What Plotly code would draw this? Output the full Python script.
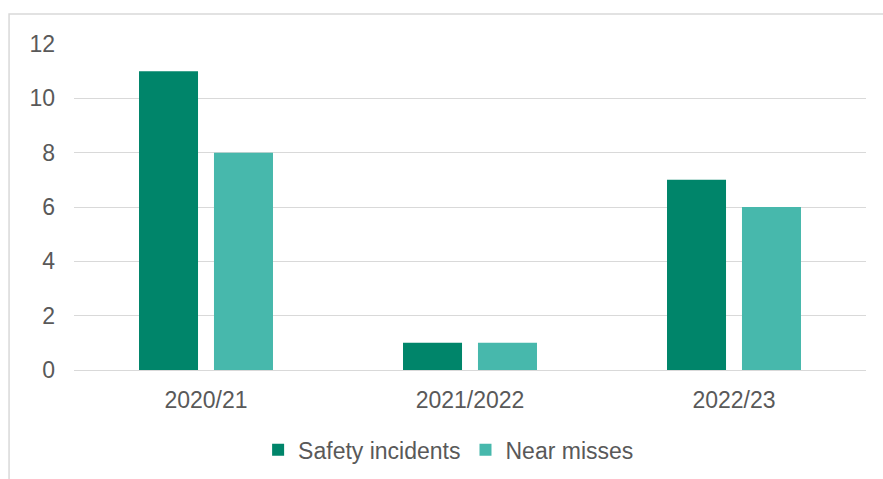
import plotly.graph_objects as go

years = ["2020/21", "2021/2022", "2022/23"]
safety_incidents = [11, 1, 7]
near_misses = [8, 1, 6]
y_ticks = [0, 2, 4, 6, 8, 10, 12]

font = dict(family="Liberation Sans, Arial, sans-serif", size=23, color="#595959")

fig = go.Figure()
fig.add_trace(go.Bar(name="Safety incidents", x=years, y=safety_incidents,
                     marker=dict(color="#00856A", line=dict(width=0))))
fig.add_trace(go.Bar(name="Near misses", x=years, y=near_misses,
                     marker=dict(color="#47B8AC", line=dict(width=0))))

fig.update_layout(
    width=883, height=479,
    margin=dict(l=74, r=17, t=44, b=109, autoexpand=False),
    paper_bgcolor="white", plot_bgcolor="white",
    font=font,
    barmode="group", bargap=0.432, bargroupgap=0.213,
    showlegend=True,
    legend=dict(orientation="h", x=0.473, xanchor="center", y=-0.245, yanchor="middle",
                font=font, itemwidth=30, traceorder="normal"),
    xaxis=dict(showgrid=False, showline=False, zeroline=False, ticks="",
               tickfont=font, ticklabelstandoff=14, automargin=False),
    yaxis=dict(range=[0, 12], tickvals=y_ticks, showgrid=True, gridcolor="#D9D9D9",
               gridwidth=1.3, zeroline=True, zerolinecolor="#D9D9D9", zerolinewidth=1.3,
               showline=False, ticks="", tickfont=font, ticklabelstandoff=18,
               automargin=False),
    shapes=[dict(type="rect", xref="paper", yref="paper",
                 x0=-0.082, x1=1.03, y0=-0.37, y1=1.092,
                 line=dict(color="#D9D9D9", width=1.5), layer="below")],
)

fig.write_html("out.html")
